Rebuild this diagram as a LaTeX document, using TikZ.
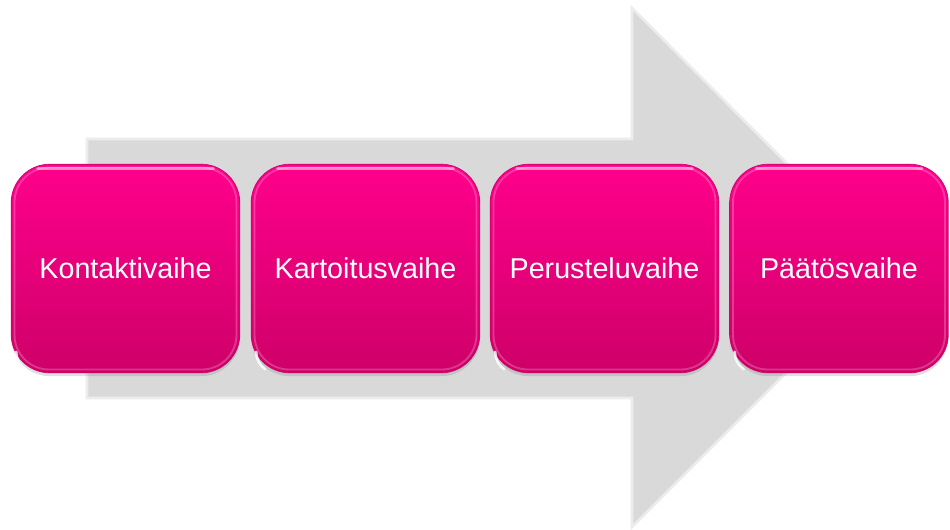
\documentclass[tikz,border=0pt]{standalone}
\usepackage{fontspec}
\setmainfont{Liberation Sans}
\usetikzlibrary{shadows}
\usetikzlibrary{positioning}
\definecolor{phasetop}{RGB}{255,0,140}
\definecolor{phasebottom}{RGB}{206,0,104}
\definecolor{arrowgrey}{RGB}{217,217,217}
\definecolor{arrowedge}{RGB}{236,236,236}
\tikzstyle{phase}=[rounded corners=29pt, top color=phasetop, bottom color=phasebottom, draw=phasebottom, line width=0.5pt, minimum width=171.5pt, minimum height=156.5pt, inner sep=0pt, text=white, font=\fontsize{21.5}{26}\selectfont, drop shadow={shadow xshift=0pt, shadow yshift=-2.5pt, opacity=0.25},
  path picture={\draw[white, opacity=0.22, line width=1.4pt, rounded corners=26pt] ([shift={(2.5pt,-2.5pt)}]path picture bounding box.north west) rectangle ([shift={(-2.5pt,2.5pt)}]path picture bounding box.south east);}]
\tikzstyle{gloss}=[white, opacity=0.5, line width=2pt, line cap=round]

\begin{document}
\begin{tikzpicture}[x=0.75pt, y=-0.75pt]
\useasboundingbox (0,0) rectangle (950,529);

% big grey arrow behind the phases
\fill[arrowgrey, draw=arrowedge, line width=2pt] (87,139) -- (632,139) -- (632,8) -- (891,268) -- (632,527) -- (632,398) -- (87,398) -- cycle;

    \foreach \pos/\name/\text in {{(125.5,268.5)/kontakti/Kontaktivaihe}, {(365.5,268.5)/kartoitus/Kartoitusvaihe}, {(604.5,268.5)/perustelu/Perusteluvaihe}}
        \node[phase] (\name) at \pos {\text};
\node[phase, minimum width=164pt] (paatos) at (839,268.5) {Päätösvaihe};

%highlights on top edge and lower left corner
\foreach \name in {kontakti, kartoitus, perustelu, paatos}{
  \draw[gloss] ([shift={(20pt,-3.5pt)}]\name.north west) -- ([shift={(-20pt,-3.5pt)}]\name.north east);
  \draw[gloss, opacity=0.8] ([shift={(4pt,16pt)}]\name.south west) arc[start angle=180, end angle=235, radius=16pt];
}

\end{tikzpicture}
\end{document}
